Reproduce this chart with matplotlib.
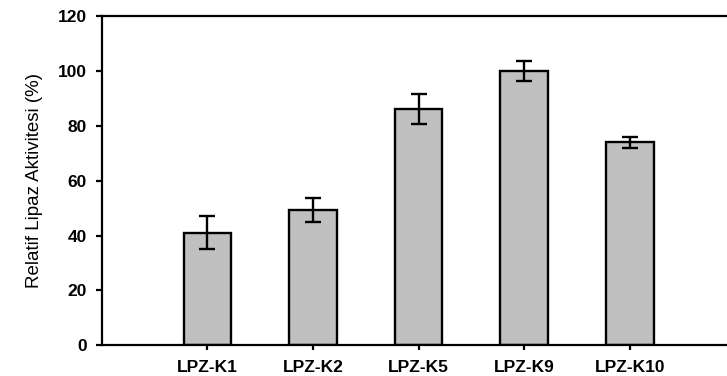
import numpy as np
import matplotlib
matplotlib.use("Agg")
import matplotlib.pyplot as plt

# values
strains = ["LPZ-K1", "LPZ-K2", "LPZ-K5", "LPZ-K9", "LPZ-K10"]
activity = [41.0, 49.3, 86.0, 100.0, 74.0]
activity_err = [6.0, 4.3, 5.5, 3.7, 2.0]
yticks = [0, 20, 40, 60, 80, 100, 120]

plt.rcParams["font.family"] = ["Liberation Sans", "DejaVu Sans"]

fig = plt.figure(figsize=(7.27, 3.76), dpi=100)
ax = fig.add_axes([0.140, 0.082, 0.860, 0.875])

x = np.arange(1, len(strains) + 1)
ax.bar(x, activity, width=0.45, color="#c0c0c0", edgecolor="black", linewidth=1.7, zorder=2)
ax.errorbar(x, activity, yerr=activity_err, fmt="none", ecolor="black",
            elinewidth=1.7, capsize=5.5, capthick=1.7, zorder=3)

ax.set_xlim(0, 5.92)
ax.set_ylim(0, 120)
ax.set_yticks(yticks)
ax.set_xticks(x)
ax.set_xticklabels(strains, fontsize=12.5, fontweight="bold")
ax.set_yticklabels([str(v) for v in yticks], fontsize=12.5, fontweight="bold")

ax.spines["right"].set_visible(False)
for s in ["left", "bottom", "top"]:
    ax.spines[s].set_linewidth(1.6)
ax.tick_params(axis="y", direction="out", length=4, width=1.6, pad=7)
ax.tick_params(axis="x", direction="out", length=3.5, width=1.6, pad=7)

ax.set_ylabel("Relatif Lipaz Aktivitesi (%)", fontsize=13.5, labelpad=10)

fig.savefig("out.png", dpi=100)
